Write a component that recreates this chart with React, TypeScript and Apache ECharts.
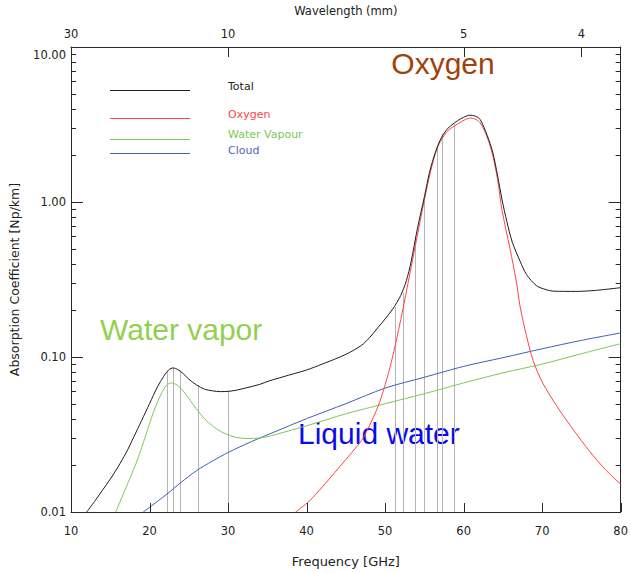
import { useEffect, useRef } from "react";
import * as echarts from "echarts";

// ---- data ----
const freqTotal = [12, 13, 14, 15, 16, 17, 18, 19, 20, 21, 21.8, 22.5, 23, 23.6, 24.3, 25, 26, 27, 28, 29, 30, 31, 32.3, 34, 35.2, 37, 40, 42, 45, 47, 48, 49.1, 50, 51, 52, 52.7, 53.3, 54.1, 55, 55.8, 56.9, 57.9, 59.2, 60, 60.8, 61.5, 62.1, 63, 63.7, 64.3, 64.9, 65.5, 66.2, 67.2, 68, 69.3, 70.5, 71.4, 74.3, 76.8, 80];
const totalAbs = [0.010, 0.0117, 0.0138, 0.0163, 0.0196, 0.024, 0.0305, 0.039, 0.050, 0.064, 0.075, 0.083, 0.085, 0.083, 0.078, 0.072, 0.066, 0.062, 0.0605, 0.0598, 0.060, 0.061, 0.0632, 0.0665, 0.070, 0.0745, 0.0825, 0.090, 0.104, 0.119, 0.133, 0.155, 0.176, 0.205, 0.250, 0.31, 0.41, 0.668, 1.08, 1.66, 2.44, 2.95, 3.34, 3.52, 3.63, 3.58, 3.41, 2.69, 2.1, 1.5, 1.03, 0.75, 0.55, 0.414, 0.341, 0.288, 0.272, 0.266, 0.265, 0.269, 0.28];

const freqOxygen = [38.6, 40.3, 42, 43.6, 45, 47, 48, 49.1, 50, 50.8, 52, 53.3, 54.1, 55, 55.8, 56.7, 57.9, 59.2, 60.2, 60.9, 61.6, 62.1, 63, 63.7, 64.3, 64.9, 65.9, 66.7, 67.2, 68, 68.85, 70, 72, 74, 76, 78, 80];
const oxygenAbs = [0.010, 0.0117, 0.0145, 0.0180, 0.0218, 0.029, 0.036, 0.048, 0.066, 0.093, 0.175, 0.376, 0.607, 1.03, 1.58, 2.27, 2.85, 3.18, 3.40, 3.48, 3.40, 3.25, 2.62, 2.0, 1.42, 0.88, 0.50, 0.31, 0.211, 0.137, 0.095, 0.069, 0.047, 0.0338, 0.0248, 0.0189, 0.0151];

const freqVapour = [15.7, 16.5, 17.5, 18.5, 19.5, 20.5, 21.5, 22.2, 22.8, 23.5, 24.2, 25, 26, 27, 28, 29, 30, 31, 32.5, 34, 35, 40, 45, 50, 55, 60, 65, 70, 75, 80];
const vapourAbs = [0.010, 0.0125, 0.0165, 0.022, 0.031, 0.044, 0.058, 0.066, 0.068, 0.066, 0.061, 0.054, 0.046, 0.040, 0.036, 0.0332, 0.0315, 0.0303, 0.0298, 0.0300, 0.0306, 0.036, 0.043, 0.050, 0.058, 0.068, 0.079, 0.090, 0.105, 0.122];

const freqCloud = [19.2, 22, 24, 26, 28, 30, 33, 36, 40, 45, 50, 55, 60, 65, 70, 75, 80];
const cloudAbs = [0.010, 0.0128, 0.0155, 0.0185, 0.0213, 0.0242, 0.0285, 0.033, 0.040, 0.050, 0.063, 0.074, 0.087, 0.099, 0.113, 0.128, 0.143];

// radiometer channels (vertical grey lines) and their tops
const channelFreq = [22.235, 23.035, 23.835, 26.235, 30.0, 51.26, 52.28, 53.86, 54.94, 56.66, 57.3, 58.8];
const channelTop = [0.081, 0.085, 0.082, 0.066, 0.060, 0.21, 0.26, 0.60, 1.05, 2.3, 2.75, 3.2];

// axes / ticks
const freqMin = 10;
const freqMax = 80;
const freqStep = 10;
const freqTicks = [10, 20, 30, 40, 50, 60, 70, 80];
const wavelengthTicks = [30, 10, 5, 4]; // mm
const absMin = 0.01;
const absMax = 10;
const absMajorTicks = [0.01, 0.1, 1, 10];
const minorMultipliers = [2, 3, 4, 5, 6, 7, 8, 9];
const decades = [0.01, 0.1, 1];

const zip = (xs: number[], ys: number[]) => xs.map((x, i) => [x, ys[i]]);

const TICK_FONT = "DejaVu Sans";
const AXIS_COLOR = "#2a2a2a";

export default function App() {
  const ref = useRef<HTMLDivElement>(null);

  useEffect(() => {
    if (!ref.current) return;
    const chart = echarts.init(ref.current, undefined, { renderer: "svg" });

    const wavelengthFreqs = wavelengthTicks.map((w) => 300 / w);
    const absMinorTicks: number[] = [];
    decades.forEach((d) => minorMultipliers.forEach((m) => absMinorTicks.push(+(d * m).toPrecision(3))));

    const lineSeries = (name: string, xs: number[], ys: number[], color: string, z = 3) => ({
      type: "line",
      name,
      data: zip(xs, ys),
      showSymbol: false,
      symbol: "none",
      smooth: 0.3,
      z,
      lineStyle: { color, width: 1 },
      itemStyle: { color },
    });

    // y-axis ticks on both the left and the right frame, placed by the log scale
    const yTickSeries = (values: number[], len: number) => ({
      type: "custom",
      clip: false,
      z: 6,
      data: values.map((v) => [freqMin, v]),
      renderItem: (params: any, api: any) => {
        const cs = params.coordSys;
        const y = Math.round(api.coord([freqMin, api.value(1)])[1]) + 0.5;
        return {
          type: "group",
          children: [
            { type: "line", shape: { x1: cs.x, y1: y, x2: cs.x + len, y2: y }, style: { stroke: AXIS_COLOR, lineWidth: 1 } },
            { type: "line", shape: { x1: cs.x + cs.width - len, y1: y, x2: cs.x + cs.width, y2: y }, style: { stroke: AXIS_COLOR, lineWidth: 1 } },
          ],
        };
      },
    });

    // x-axis ticks: bottom (frequency) point up, top (wavelength) point down
    const xTickSeries = (values: number[], len: number, atTop: boolean) => ({
      type: "custom",
      clip: false,
      z: 6,
      data: values.map((v) => [v, absMin]),
      renderItem: (params: any, api: any) => {
        const cs = params.coordSys;
        const x = Math.round(api.coord([api.value(0), absMin])[0]) + 0.5;
        const y0 = atTop ? cs.y : cs.y + cs.height;
        const y1 = atTop ? cs.y + len : cs.y + cs.height - len;
        return { type: "line", shape: { x1: x, y1: y0, x2: x, y2: y1 }, style: { stroke: AXIS_COLOR, lineWidth: 1 } };
      },
    });

    const tickLabelStyle = { fontFamily: TICK_FONT, fontSize: 11.5, color: "#222" };

    const option: any = {
      animation: false,
      backgroundColor: "#fff",
      grid: { left: 70, top: 42, right: 6, bottom: 51, containLabel: false },
      xAxis: [
        {
          type: "value",
          position: "bottom",
          min: freqMin,
          max: freqMax,
          interval: freqStep,
          name: "Frequency [GHz]",
          nameLocation: "middle",
          nameGap: 43,
          nameTextStyle: { fontFamily: TICK_FONT, fontSize: 13, color: "#222" },
          axisLine: { show: true, onZero: false, lineStyle: { color: AXIS_COLOR, width: 1 } },
          axisTick: { show: false },
          axisLabel: { ...tickLabelStyle, margin: 13 },
          splitLine: { show: false },
        },
        {
          type: "value",
          position: "top",
          min: freqMin,
          max: freqMax,
          name: "Wavelength (mm)",
          nameLocation: "middle",
          nameGap: 30,
          nameTextStyle: { fontFamily: TICK_FONT, fontSize: 11.5, color: "#222" },
          axisLine: { show: true, onZero: false, lineStyle: { color: AXIS_COLOR, width: 1 } },
          axisTick: { show: false },
          axisLabel: {
            ...tickLabelStyle,
            margin: 7,
            customValues: wavelengthFreqs,
            formatter: (v: number) => String(Math.round(300 / v)),
          },
          splitLine: { show: false },
        },
      ],
      yAxis: [
        {
          type: "log",
          logBase: 10,
          position: "left",
          min: absMin,
          max: absMax,
          name: "Absorption Coefficient [Np/km]",
          nameLocation: "middle",
          nameGap: 50,
          nameRotate: 90,
          nameTextStyle: { fontFamily: TICK_FONT, fontSize: 12.5, color: "#222" },
          axisLine: { show: true, onZero: false, lineStyle: { color: AXIS_COLOR, width: 1 } },
          axisTick: { show: false },
          axisLabel: {
            ...tickLabelStyle,
            margin: 5,
            formatter: (v: number) => (v >= absMax ? "{top|" + v.toFixed(2) + "}" : v.toFixed(2)),
            rich: { top: { ...tickLabelStyle, padding: [16, 0, 0, 0] } },
          },
          splitLine: { show: false },
        },
        {
          type: "log",
          logBase: 10,
          position: "right",
          min: absMin,
          max: absMax,
          axisLine: { show: true, onZero: false, lineStyle: { color: AXIS_COLOR, width: 1 } },
          axisTick: { show: false },
          axisLabel: { show: false },
          splitLine: { show: false },
        },
      ],
      series: [
        {
          type: "custom",
          name: "Channels",
          z: 1,
          data: zip(channelFreq, channelTop),
          renderItem: (_params: any, api: any) => {
            const f = api.value(0);
            const top = api.value(1);
            const p0 = api.coord([f, absMin]);
            const p1 = api.coord([f, top]);
            const x = Math.round(p0[0]) + 0.5;
            return {
              type: "line",
              shape: { x1: x, y1: p0[1], x2: x, y2: p1[1] },
              style: { stroke: "#b4b4b4", lineWidth: 1 },
            };
          },
        },
        lineSeries("Cloud", freqCloud, cloudAbs, "#3f5fb5"),
        lineSeries("Water Vapour", freqVapour, vapourAbs, "#7cc85a"),
        lineSeries("Oxygen", freqOxygen, oxygenAbs, "#ff4444"),
        lineSeries("Total", freqTotal, totalAbs, "#1e1e1e", 4),
        yTickSeries(absMajorTicks, 12),
        yTickSeries(absMinorTicks, 5),
        xTickSeries(freqTicks, 9, false),
        xTickSeries(wavelengthFreqs, 10, true),
      ],
      graphic: [
        // legend
        { type: "line", shape: { x1: 110, y1: 90.5, x2: 190, y2: 90.5 }, style: { stroke: "#1e1e1e", lineWidth: 1 } },
        { type: "line", shape: { x1: 110, y1: 118.5, x2: 190, y2: 118.5 }, style: { stroke: "#ff4444", lineWidth: 1 } },
        { type: "line", shape: { x1: 110, y1: 139.5, x2: 190, y2: 139.5 }, style: { stroke: "#7cc85a", lineWidth: 1 } },
        { type: "line", shape: { x1: 110, y1: 153.5, x2: 190, y2: 153.5 }, style: { stroke: "#3f5fb5", lineWidth: 1 } },
        { type: "text", x: 228, y: 86, style: { text: "Total", fill: "#222", font: "11px 'DejaVu Sans'", verticalAlign: "middle" } },
        { type: "text", x: 228, y: 114, style: { text: "Oxygen", fill: "#ff4444", font: "11px 'DejaVu Sans'", verticalAlign: "middle" } },
        { type: "text", x: 228, y: 134, style: { text: "Water Vapour", fill: "#7cc85a", font: "11px 'DejaVu Sans'", verticalAlign: "middle" } },
        { type: "text", x: 228, y: 150, style: { text: "Cloud", fill: "#4f67b5", font: "11px 'DejaVu Sans'", verticalAlign: "middle" } },
        // annotations
        { type: "text", x: 443, y: 78, style: { text: "Oxygen", fill: "#a0420c", font: "30px 'Liberation Sans', Arial, sans-serif", align: "center", verticalAlign: "bottom" } },
        { type: "text", x: 100, y: 344, style: { text: "Water vapor", fill: "#92d050", font: "30px 'Liberation Sans', Arial, sans-serif", align: "left", verticalAlign: "bottom" } },
        { type: "text", x: 298, y: 448, style: { text: "Liquid water", fill: "#0a0af0", font: "30px 'Liberation Sans', Arial, sans-serif", align: "left", verticalAlign: "bottom" } },
      ],
    };

    chart.setOption(option);
    return () => chart.dispose();
  }, []);

  return (
    <div
      ref={ref}
      style={{ position: "fixed", left: 0, top: 0, width: 631, height: 573, background: "#fff" }}
    />
  );
}
